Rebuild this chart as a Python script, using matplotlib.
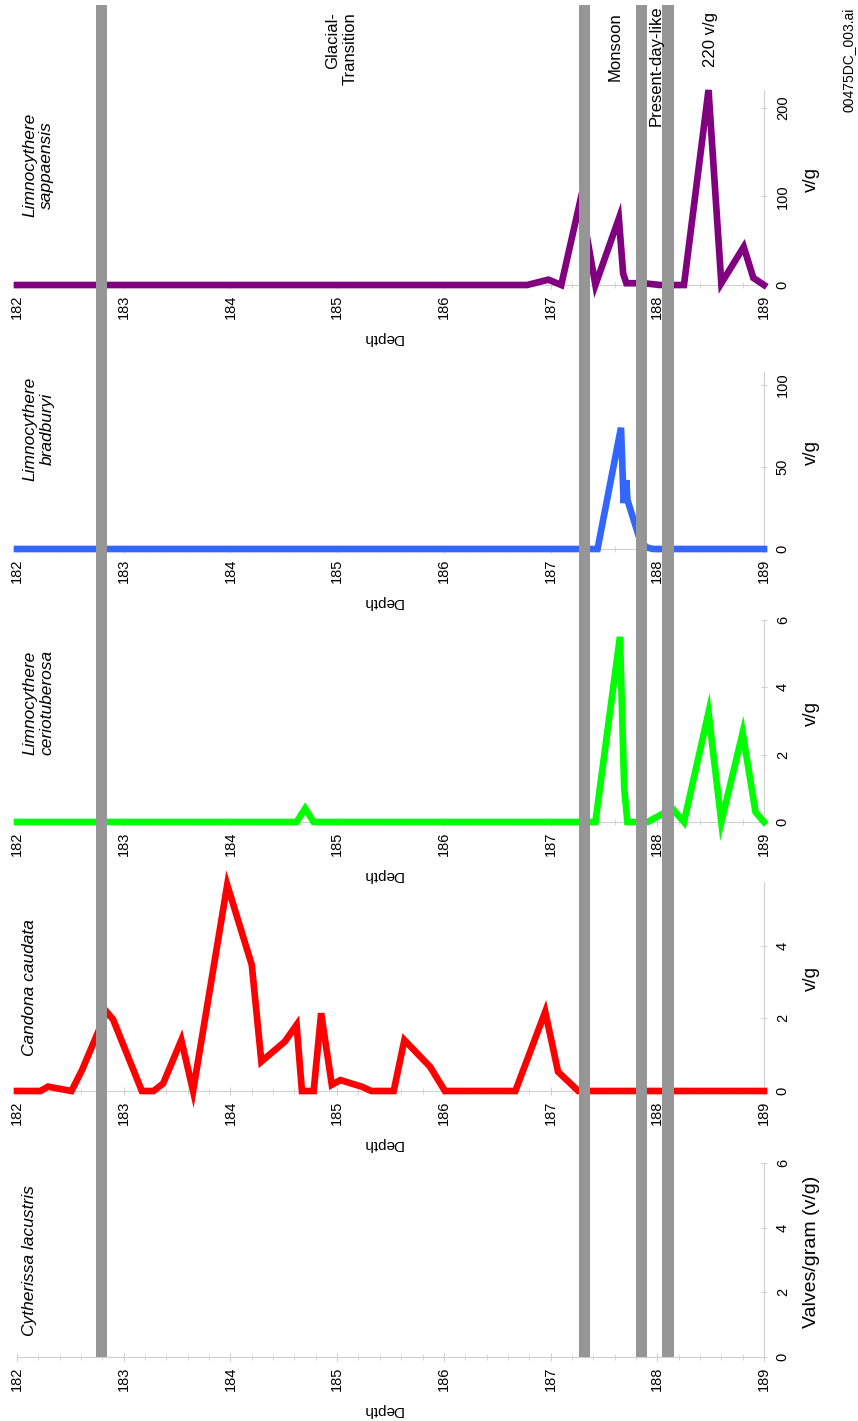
import matplotlib.pyplot as plt
from matplotlib.ticker import MultipleLocator

plt.rcParams['font.family'] = ['Liberation Sans', 'DejaVu Sans']

# depth (m) and valves/gram, one pair per taxon
sap_depth = [182.0, 186.78, 186.98, 187.10, 187.28, 187.42, 187.64, 187.68, 187.71,
             187.87, 188.03, 188.25, 188.48, 188.60, 188.81, 188.90, 189.0]
sap_vg = [0, 0, 6, 0, 96, 0, 75, 13, 2, 2, 0, 0, 220, 2, 43, 8, 0]

brad_depth = [182.0, 187.44, 187.66, 187.685, 187.71, 187.72, 187.84, 187.90, 187.96, 189.0]
brad_vg = [0, 0, 74, 28, 42, 30, 5, 1, 0, 0]

cerio_depth = [182.0, 184.62, 184.70, 184.78, 187.42, 187.65, 187.69, 187.72, 187.91,
               188.14, 188.25, 188.48, 188.60, 188.80, 188.92, 189.0]
cerio_vg = [0, 0, 0.4, 0, 0, 5.5, 1.0, 0, 0, 0.4, 0, 3.25, 0, 2.65, 0.3, 0]

cand_depth = [182.0, 182.22, 182.29, 182.51, 182.61, 182.84, 182.90, 183.17, 183.28,
              183.37, 183.54, 183.65, 183.97, 184.20, 184.29, 184.51, 184.62, 184.67,
              184.78, 184.85, 184.95, 185.03, 185.23, 185.32, 185.53, 185.63, 185.87,
              186.01, 186.67, 186.95, 187.07, 187.26, 189.0]
cand_vg = [0, 0, 0.12, 0, 0.58, 2.18, 1.97, 0, 0, 0.21, 1.40, 0, 5.67, 3.47, 0.81,
           1.36, 1.82, 0, 0, 2.14, 0.17, 0.30, 0.12, 0, 0, 1.40, 0.67, 0, 0, 2.18,
           0.53, 0, 0]

cyth_depth = []
cyth_vg = []

# zone boundaries (grey bars)
zone_depths = [182.79, 187.32, 187.85, 188.10]

W, H = 858, 1421
X0, X1 = 17, 764   # pixel columns of 182 m and 189 m


def box(top, bottom):
    return [X0 / W, 1 - bottom / H, (X1 - X0) / W, (bottom - top) / H]


def fy(y):
    return 1 - y / H


fig = plt.figure(figsize=(W / 100, H / 100), dpi=100)

axis_grey = '#d0d0d0'
# title, depth, values, colour, top px, zero px, ymax, yticks, value label
panels = [
    ('Limnocythere\nsappaensis', sap_depth, sap_vg, '#800080', 90, 285, 220, [0, 100, 200], 'v/g'),
    ('Limnocythere\nbradburyi', brad_depth, brad_vg, '#3366ff', 372, 549, 108, [0, 50, 100], 'v/g'),
    ('Limnocythere\nceriotuberosa', cerio_depth, cerio_vg, '#00ff00', 620, 822, 6, [0, 2, 4, 6], 'v/g'),
    ('Candona caudata', cand_depth, cand_vg, '#ff0000', 882, 1091, 5.75, [0, 2, 4], 'v/g'),
    ('Cytherissa lacustris', cyth_depth, cyth_vg, '#000000', 1163, 1357, 6, [0, 2, 4, 6], 'Valves/gram (v/g)'),
]

for title, d, v, col, top, zero, ymax, yt, ylab in panels:
    ax = fig.add_axes(box(top, zero))
    ax.patch.set_alpha(0)
    ax.set_xlim(182, 189)
    ax.set_ylim(0, ymax)
    if len(d):
        ax.plot(d, v, color=col, lw=4.8, solid_joinstyle='miter', clip_on=False, zorder=3)
    for s in ['top', 'left']:
        ax.spines[s].set_visible(False)
    ax.spines['bottom'].set_color(axis_grey)
    ax.spines['right'].set_color(axis_grey)
    ax.xaxis.set_major_locator(MultipleLocator(1))
    ax.xaxis.set_minor_locator(MultipleLocator(0.2))
    ax.tick_params(axis='x', which='major', direction='inout', length=6, color=axis_grey,
                   labelsize=10.5, labelrotation=90, pad=4)
    ax.tick_params(axis='x', which='minor', direction='inout', length=4, color=axis_grey)
    ax.yaxis.tick_right()
    ax.set_yticks(yt)
    ax.tick_params(axis='y', direction='inout', length=5, color=axis_grey,
                   labelsize=10.5, labelrotation=90, pad=6)
    for lbl in ax.get_yticklabels():
        lbl.set_va('center')

    fig.text((X0 + 0.489 * (X1 - X0)) / W, fy(zero + 53), 'Depth', rotation=180,
             ha='center', va='center', fontsize=11)
    fs = 14 if ylab != 'v/g' else 13.5
    fig.text(811 / W, fy((top + zero) / 2 - 8), ylab, rotation=90,
             ha='center', va='center', fontsize=fs)
    fig.text(22 / W, fy(zero - 172), title, rotation=90, ha='left', va='top',
             style='italic', fontsize=12.5, multialignment='center')

# grey zone bars across all panels
ov = fig.add_axes(box(5, 1357))
ov.set_xlim(182, 189)
ov.axis('off')
for z in zone_depths:
    ov.axvspan(z - 0.054, z + 0.054, color='#969696', lw=0)

fig.text(341 / W, fy(12), 'Glacial-\nTransition', rotation=90, ha='center', va='top',
         fontsize=12, multialignment='right')
fig.text(615 / W, fy(12), 'Monsoon', rotation=90, ha='center', va='top', fontsize=12)
fig.text(656 / W, fy(5), 'Present-day-like', rotation=90, ha='center', va='top', fontsize=12)
fig.text(710 / W, fy(12), '220 v/g', rotation=90, ha='center', va='top', fontsize=12)
fig.text(849 / W, fy(8), '00475DC_003.ai', rotation=90, ha='center', va='top', fontsize=10)

fig.savefig('out.png', dpi=100)
